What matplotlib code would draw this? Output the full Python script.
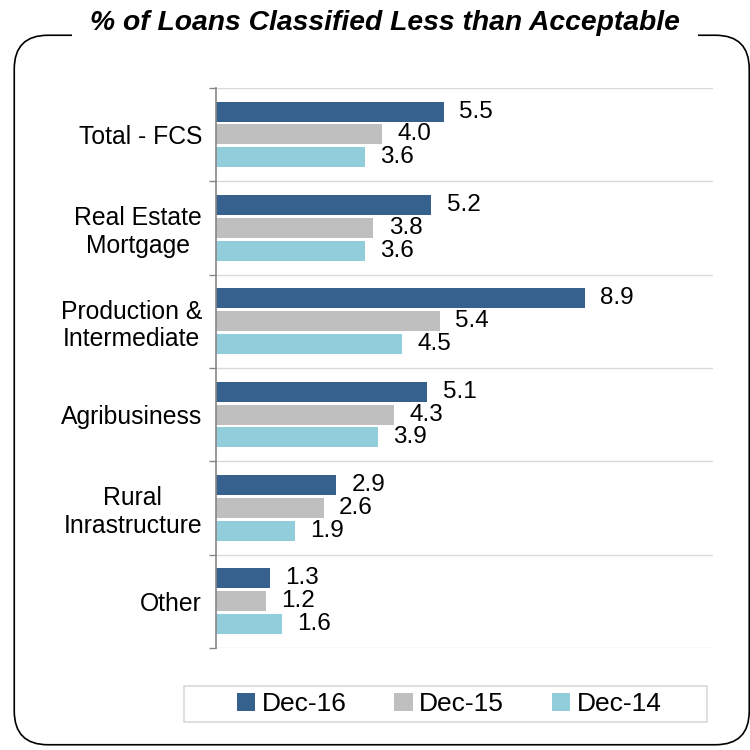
import numpy as np
import matplotlib.pyplot as plt
from matplotlib.patches import FancyBboxPatch, Rectangle

plt.rcParams['font.family'] = ['Liberation Sans', 'DejaVu Sans']

categories = ["Total - FCS", "Real Estate\nMortgage", "Production &\nIntermediate",
              "Agribusiness", "Rural\nInrastructure", "Other"]
series = ["Dec-16", "Dec-15", "Dec-14"]
dec16 = [5.5, 5.2, 8.9, 5.1, 2.9, 1.3]
dec15 = [4.0, 3.8, 5.4, 4.3, 2.6, 1.2]
dec14 = [3.6, 3.6, 4.5, 3.9, 1.9, 1.6]
colors = ["#36618f", "#bfbfbf", "#92cddc"]

fig = plt.figure(figsize=(7.5, 7.5), dpi=100)

# rounded frame around the whole chart
frame = FancyBboxPatch((0.019 + 0.04, 0.007 + 0.04), 0.98 - 0.08, 0.946 - 0.08,
                       boxstyle="round,pad=0.04,rounding_size=0.045",
                       transform=fig.transFigure, fill=False, edgecolor="black", lw=1.2)
fig.patches.append(frame)
fig.text(0.513, 0.969, "% of Loans Classified Less than Acceptable", ha="center", va="center",
         fontsize=20.3, fontweight="bold", fontstyle="italic",
         bbox=dict(facecolor="white", edgecolor="none", pad=13))

ax = fig.add_axes([0.288, 0.136, 0.663, 0.747])
y = np.arange(len(categories))
h = 0.215
step = 0.245
for i, (vals, name) in enumerate(zip([dec16, dec15, dec14], series)):
    pos = y + (i - 1) * step
    ax.barh(pos, vals, height=h, color=colors[i], label=name)
    for p, v in zip(pos, vals):
        ax.annotate(f"{v:.1f}", (v, p), xytext=(11, 0), textcoords="offset points",
                    va="center", ha="left", fontsize=17.5)

ax.set_xlim(0, 12)
ax.set_ylim(len(categories) - 0.5, -0.5)
ax.set_yticks(y)
ax.set_yticklabels(categories, fontsize=17.8, multialignment="center")
ax.tick_params(axis="y", which="major", length=0, pad=10)
ax.set_yticks(np.arange(-0.5, len(categories)), minor=True)
ax.tick_params(axis="y", which="minor", length=5, color="#868686", width=1)
ax.grid(axis="y", which="minor", color="#d9d9d9", lw=1)
ax.set_axisbelow(True)
ax.set_xticks([])
for s in ["top", "right", "bottom"]:
    ax.spines[s].set_visible(False)
ax.spines["left"].set_color("#868686")
ax.spines["left"].set_linewidth(1.2)

# legend box drawn separately so it can be wider than the entries
fig.patches.append(Rectangle((0.245, 0.037), 0.698, 0.048, transform=fig.transFigure,
                             fill=False, edgecolor="#d9d9d9", lw=1.2))
fig.legend(loc="center", bbox_to_anchor=(0.599, 0.061), ncol=3, fontsize=19,
           handlelength=0.7, handleheight=0.7, handletextpad=0.25, columnspacing=1.8,
           frameon=False)

fig.savefig("out.png", dpi=100)
